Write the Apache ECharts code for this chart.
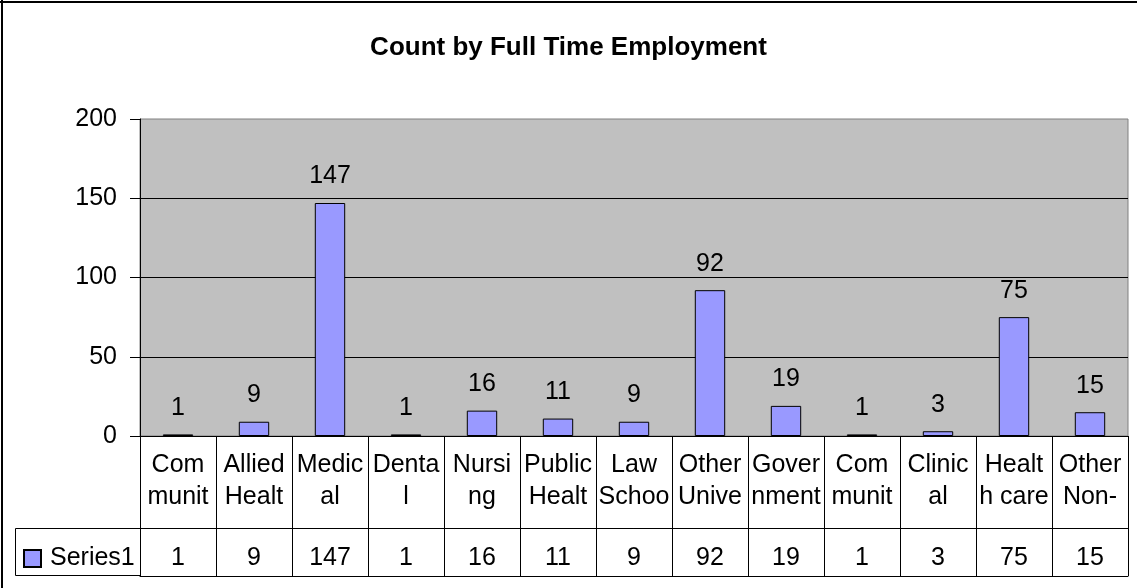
<!DOCTYPE html>
<html>
<head>
<meta charset="utf-8">
<script src="https://cdn.jsdelivr.net/npm/echarts@6/dist/echarts.min.js"></script>
<style>
  html, body { margin: 0; padding: 0; background: #fff; }
  #chart { width: 1137px; height: 588px; }
</style>
</head>
<body>
<div id="chart"></div>
<script>
// category names as they show in the (clipped) table cells
const categories = [
  'Com\nmunit', 'Allied\nHealt', 'Medic\nal', 'Denta\nl', 'Nursi\nng',
  'Public\nHealt', 'Law\nSchoo', 'Other\nUnive', 'Gover\nnment', 'Com\nmunit',
  'Clinic\nal', 'Healt\nh care', 'Other\nNon-'
]
const series1 = [1, 9, 147, 1, 16, 11, 9, 92, 19, 1, 3, 75, 15]
const yTicks = { min: 0, max: 200, interval: 50 }

const FONT = "'Liberation Sans Narrow', 'Liberation Sans', Arial, sans-serif"
const FS = 25
const LINE = { color: '#000', width: 1 }

const chart = echarts.init(document.getElementById('chart'), undefined, { renderer: 'canvas' })

chart.setOption({
  backgroundColor: '#fff',
  animation: false,
  textStyle: { fontFamily: FONT, color: '#000' },
  title: {
    text: 'Count by Full Time Employment',
    left: 'center',
    top: 30,
    textStyle: { fontFamily: FONT, fontSize: 26, fontWeight: 'bold', color: '#000' },
  },
  legend: {
    data: ['Series1'],
    left: 23,
    top: 546,
    padding: 0,
    icon: 'rect',
    itemWidth: 17,
    itemHeight: 17,
    textStyle: { fontFamily: FONT, fontSize: FS, color: '#000', padding: [0, 0, 0, 4] },
  },
  grid: [
    { left: 140, right: 9, top: 119, height: 317, show: true, backgroundColor: '#C0C0C0', borderColor: '#808080', borderWidth: 1 },
    { left: 140, right: 9, top: 436, height: 92 },
    { left: 140, right: 9, top: 528, height: 48 },
  ],
  xAxis: [
    {
      gridIndex: 0,
      type: 'category',
      data: categories,
      axisLine: { lineStyle: LINE },
      axisTick: { show: false },
      axisLabel: { show: false },
    },
    {
      gridIndex: 1,
      type: 'category',
      data: categories,
      boundaryGap: true,
      axisLine: { lineStyle: LINE },
      axisTick: { show: false },
      splitLine: { show: true, lineStyle: LINE },
      axisLabel: {
        inside: true,
        margin: 15,
        interval: 0,
        fontFamily: FONT,
        fontSize: FS,
        lineHeight: 32,
        color: '#000',
      },
    },
    {
      gridIndex: 2,
      type: 'category',
      data: series1.map(String),
      boundaryGap: true,
      axisLine: { lineStyle: LINE },
      axisTick: { show: false },
      splitLine: { show: true, lineStyle: LINE },
      axisLabel: {
        inside: true,
        margin: 5,
        interval: 0,
        fontFamily: FONT,
        fontSize: FS,
        color: '#000',
      },
    },
  ],
  yAxis: [
    {
      gridIndex: 0,
      type: 'value',
      min: yTicks.min,
      max: yTicks.max,
      interval: yTicks.interval,
      axisLine: { show: true, lineStyle: LINE },
      axisTick: { show: true, length: 10, lineStyle: LINE },
      splitLine: { show: true, showMaxLine: false, lineStyle: LINE },
      axisLabel: { margin: 23, fontFamily: FONT, fontSize: FS, color: '#000' },
    },
    { gridIndex: 1, type: 'value', show: false },
    { gridIndex: 2, type: 'value', show: false },
  ],
  series: [
    {
      name: 'Series1',
      type: 'bar',
      xAxisIndex: 0,
      yAxisIndex: 0,
      data: series1,
      barCategoryGap: '60%',
      itemStyle: { color: '#9999FF', borderColor: '#000', borderWidth: 1 },
      label: {
        show: true,
        position: 'top',
        distance: 14,
        fontFamily: FONT,
        fontSize: FS,
        color: '#000',
      },
    },
  ],
  graphic: [
    // chart frame (clipped: only top and left edges visible)
    { type: 'line', shape: { x1: 0, y1: 2, x2: 1137, y2: 2 }, style: { stroke: '#000', lineWidth: 2 } },
    { type: 'line', shape: { x1: 2, y1: 0, x2: 2, y2: 588 }, style: { stroke: '#000', lineWidth: 2 } },
    // legend-key cell of the data table
    { type: 'rect', shape: { x: 15.5, y: 528.5, width: 125, height: 47 }, style: { fill: 'none', stroke: '#000', lineWidth: 1 } },
  ],
})
</script>
</body>
</html>
